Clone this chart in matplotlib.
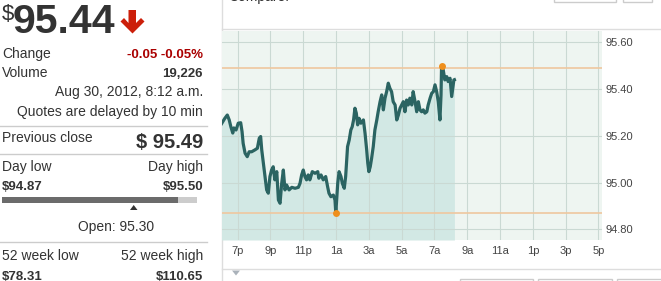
import matplotlib
matplotlib.use("Agg")
import matplotlib.pyplot as plt
import numpy as np
from matplotlib.patches import Rectangle, Polygon

plt.rcParams['font.family'] = ['Liberation Sans', 'DejaVu Sans']

# ---------------- data ----------------
# minutes after 6:00 p.m. (Aug 29) and price
minutes = [0, 13, 22, 29, 35, 42, 46, 54, 62, 71,
           76, 80, 87, 95, 102, 111, 123, 132, 139, 144,
           148, 154, 160, 166, 172, 178, 184, 190, 196, 203,
           209, 215, 221, 227, 233, 239, 248, 258, 270, 282,
           288, 294, 300, 306, 312, 318, 324, 333, 343, 353,
           357, 365, 373, 382, 389, 394, 401, 410, 416, 419,
           422, 426, 431, 438, 443, 450, 455, 459, 462, 468,
           474, 479, 484, 489, 494, 499, 504, 511, 520, 526,
           532, 536, 540, 545, 550, 556, 562, 569, 574, 581,
           587, 593, 599, 605, 611, 617, 623, 629, 636, 642,
           648, 654, 660, 666, 672, 678, 684, 690, 697, 702,
           709, 715, 721, 727, 733, 739, 745, 752, 757, 764,
           770, 776, 782, 788, 794, 800, 804, 806, 812, 818,
           825, 830, 837, 843, 847, 851, 853]
prices = [95.250, 95.275, 95.289, 95.268, 95.239, 95.212, 95.234, 95.225, 95.254, 95.256,
          95.218, 95.168, 95.126, 95.111, 95.132, 95.132, 95.140, 95.147, 95.190, 95.197,
          95.140, 95.083, 95.026, 94.969, 94.955, 95.026, 95.054, 95.068, 95.012, 95.047,
          94.926, 94.912, 94.997, 95.054, 94.969, 94.990, 94.969, 94.980, 94.976, 94.980,
          94.997, 95.033, 95.054, 95.026, 95.012, 95.033, 95.012, 95.047, 95.040, 95.047,
          95.019, 95.033, 95.012, 95.026, 94.983, 94.955, 94.940, 94.947, 94.926, 94.870,
          94.926, 94.997, 95.047, 95.026, 94.997, 94.976, 95.026, 95.097, 95.154, 95.182,
          95.225, 95.239, 95.268, 95.318, 95.297, 95.247, 95.275, 95.254, 95.268, 95.211,
          95.140, 95.083, 95.047, 95.068, 95.104, 95.154, 95.225, 95.268, 95.303, 95.346,
          95.375, 95.311, 95.361, 95.389, 95.425, 95.403, 95.389, 95.346, 95.332, 95.268,
          95.289, 95.318, 95.332, 95.346, 95.303, 95.353, 95.332, 95.361, 95.332, 95.389,
          95.346, 95.303, 95.346, 95.311, 95.303, 95.311, 95.297, 95.303, 95.332, 95.361,
          95.382, 95.389, 95.418, 95.389, 95.346, 95.268, 95.375, 95.500, 95.482, 95.439,
          95.453, 95.432, 95.446, 95.368, 95.403, 95.439, 95.440]

x_tick_minutes = [60, 180, 300, 420, 540, 660, 780, 900, 1020, 1140, 1260, 1380]
x_tick_labels = ['7p', '9p', '11p', '1a', '3a', '5a', '7a', '9a', '11a', '1p', '3p', '5p']
y_ticks = [94.80, 95.00, 95.20, 95.40, 95.60]

last_price = "95.44"
change_text = "-0.05 -0.05%"
volume_text = "19,226"
date_text = "Aug 30, 2012, 8:12 a.m."
delay_text = "Quotes are delayed by 10 min"
prev_close = 95.49
day_low = 94.87
day_high = 95.50
open_price = 95.30
week52_low = 78.31
week52_high = 110.65

# ---------------- figure ----------------
W, H = 661, 281
fig = plt.figure(figsize=(W / 100, H / 100), dpi=100)
fig.patch.set_facecolor('white')

ov = fig.add_axes([0, 0, 1, 1])
ov.set_xlim(0, W)
ov.set_ylim(H, 0)
ov.axis('off')

TXT = '#333333'

def t(x, y, s, ha='left', size=10, weight='normal', color=TXT):
    ov.text(x, y, s, ha=ha, va='baseline', fontsize=size, fontweight=weight, color=color)

# big price
t(2, 19.5, "$", size=16)
t(13, 33, last_price, size=29.5, weight='bold')
dx = 2.5
arrow = [(126, 10), (133.5, 10), (133.5, 23), (138.5, 18), (142, 21.5), (130, 33.5),
         (118, 21.5), (121.5, 18), (126, 23)]
arrow = [(x + dx, y) for x, y in arrow]
ov.add_patch(Polygon(arrow, closed=True, facecolor='#cc1f0a', edgecolor='none'))

t(2, 58, "Change")
t(203, 58, change_text, ha='right', size=9.5, weight='bold', color='#aa0000')
t(2, 77, "Volume")
t(203, 77, volume_text, ha='right', size=9.5, weight='bold')
t(203, 96, date_text, ha='right')
t(203, 116, delay_text, ha='right')

for yy in (126, 154, 242):
    ov.plot([0, 207], [yy, yy], color='#cccccc', lw=1)

t(2, 142.5, "Previous close")
t(203, 148, f"$ {prev_close:.2f}", ha='right', size=14.5, weight='bold')

t(2, 171.5, "Day low")
t(203, 171.5, "Day high", ha='right')
t(2, 190.5, f"${day_low:.2f}", size=9.5, weight='bold')
t(203, 190.5, f"${day_high:.2f}", ha='right', size=9.5, weight='bold')
ov.add_patch(Rectangle((2, 197), 176, 6, facecolor='#6b6b6b', edgecolor='none'))
ov.add_patch(Rectangle((178, 197), 19, 6, facecolor='#cccccc', edgecolor='none'))
ov.add_patch(Polygon([(130, 210), (137.5, 210), (133.7, 205)], closed=True,
                     facecolor='#333333', edgecolor='none'))
t(116, 231.5, f"Open: {open_price:.2f}", ha='center')

t(2, 260, "52 week low")
t(203, 260, "52 week high", ha='right')
t(2, 279.5, f"${week52_low:.2f}", size=9.5, weight='bold')
t(203, 279.5, f"${week52_high:.2f}", ha='right', size=9.5, weight='bold')

# chart frame decorations
ov.plot([221.5, 221.5], [0, H], color='#dddddd', lw=1)
ov.plot([222, W], [29.3, 29.3], color='#dddddd', lw=1)
ov.plot([222, W], [269.3, 269.3], color='#dddddd', lw=1)
ov.add_patch(Polygon([(232, 270.5), (240, 270.5), (236, 275.5)], closed=True,
                     facecolor='#aab2ba', edgecolor='none'))
t(228, 0.5, "Compare:")
t(293, 0.5, "Indexes", color='#1f5f9e')
for (x0, x1) in [(554, 616), (623, 652)]:
    ov.add_patch(Rectangle((x0, -5), x1 - x0, 6.7, facecolor='white', edgecolor='#cccccc', lw=1))
for (x0, x1) in [(460, 533), (538, 611.5), (616.7, 662)]:
    ov.add_patch(Rectangle((x0, 279.3), x1 - x0, 6, facecolor='white', edgecolor='#cccccc', lw=1))

# ---------------- chart ----------------
ax = fig.add_axes([222 / W, 1 - 240 / H, 380 / W, 209 / H])
ax.set_facecolor('#eef5f1')
ylo, yhi = 94.755, 95.648
ax.set_xlim(2.6, 1393)
ax.set_ylim(ylo, yhi)

m = np.array(minutes)
p = np.array(prices)
ax.fill_between(m, p, ylo, color='#d2e8e4', lw=0, zorder=1)
ax.axhline(prev_close, color='#efc79f', lw=1.2, zorder=1.8)
ax.axhline(day_low, color='#efc79f', lw=1.2, zorder=1.8)
ax.plot(m, p, color='#2b6462', lw=2.3, solid_joinstyle='round', zorder=3)
ilo, ihi = int(np.argmin(p)), int(np.argmax(p))
ax.plot([m[ilo], m[ihi]], [p[ilo], p[ihi]], 'o', color='#ef8f1c', ms=5, mec='none', zorder=4)

ax.set_xticks(x_tick_minutes)
ax.set_xticklabels(x_tick_labels)
ax.set_yticks(y_ticks)
ax.set_yticklabels([f"{v:.2f}" for v in y_ticks])
ax.yaxis.tick_right()
ax.tick_params(axis='both', length=0, labelsize=8, labelcolor='#444444')
ax.tick_params(axis='x', pad=4)
ax.tick_params(axis='y', pad=2.5)
ax.grid(True, color='#cad9d3', lw=0.8)
for s in ax.spines.values():
    s.set_visible(False)

fig.savefig('out.png', dpi=100)
